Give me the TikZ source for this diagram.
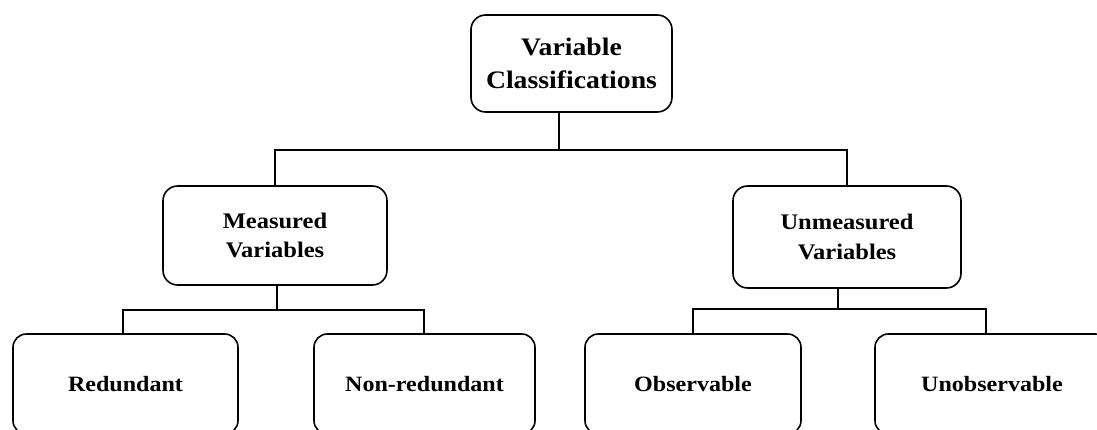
\documentclass[tikz,border=0pt]{standalone}
\usepackage{fontspec}
\setmainfont{Liberation Serif}
\newfontfamily\boxfont{Liberation Serif}[FakeStretch=1.1]
\usetikzlibrary{calc}
\tikzset{
  lnk/.style={draw=black, line width=1.2pt},
  vbox/.style 2 args={draw=black, line width=1.2pt, rounded corners=11pt,
    minimum width=#1*0.75pt, minimum height=#2*0.75pt, inner sep=0pt,
    align=center},
  topTxt/.style={font=\boxfont\bfseries\fontsize{18.9}{24.75}\selectfont},
  midTxt/.style={font=\boxfont\bfseries\fontsize{16.7}{22}\selectfont},
  lowTxt/.style={font=\boxfont\bfseries\fontsize{16.4}{20}\selectfont, rounded corners=10pt},
}

\begin{document}
\begin{tikzpicture}[x=0.75pt, y=-0.75pt]
\useasboundingbox (0,0) rectangle (1097,429);

% ── boxes ────────────────────────────────────────────────────────────────────
\node[vbox={201}{97}, topTxt] (classes) at (571.5, 63.5) {Variable\\Classifications};
\node[vbox={224}{99}, midTxt] (meas) at (275, 235.5) {Measured\\Variables};
\node[vbox={228}{102}, midTxt] (unmeas) at (847, 237) {Unmeasured\\Variables};
\node[vbox={225}{100}, lowTxt] (redund) at (125.5, 384) {Redundant};
\node[vbox={221}{100}, lowTxt] (nonred) at (424.5, 384) {Non-redundant};
\node[vbox={216}{100}, lowTxt] (observ) at (693, 384) {Observable};
\node[vbox={234}{100}, lowTxt] (unobserv) at (992, 384) {Unobservable};

% ── junctions ────────────────────────────────────────────────────────────────
\coordinate (jTop) at (559, 150);
\coordinate (jMeas) at (277, 310);
\coordinate (jUnmeas) at (838, 309);
\coordinate (stRed) at (123, 310);
\coordinate (stNon) at (424, 310);
\coordinate (stObs) at (693, 309);
\coordinate (stUnobs) at (986, 309);

% ── connectors ───────────────────────────────────────────────────────────────
\draw[lnk] (jTop |- classes.south) -- (jTop);
\draw[lnk] (meas.north) |- (jTop) -| (unmeas.north);
\draw[lnk] (jMeas |- meas.south) -- (jMeas);
\draw[lnk] (stRed |- redund.north) -- (stRed) -- (stNon) -- (stNon |- nonred.north);
\draw[lnk] (jUnmeas |- unmeas.south) -- (jUnmeas);
\draw[lnk] (stObs |- observ.north) -- (stObs) -- (stUnobs) -- (stUnobs |- unobserv.north);

\end{tikzpicture}
\end{document}
